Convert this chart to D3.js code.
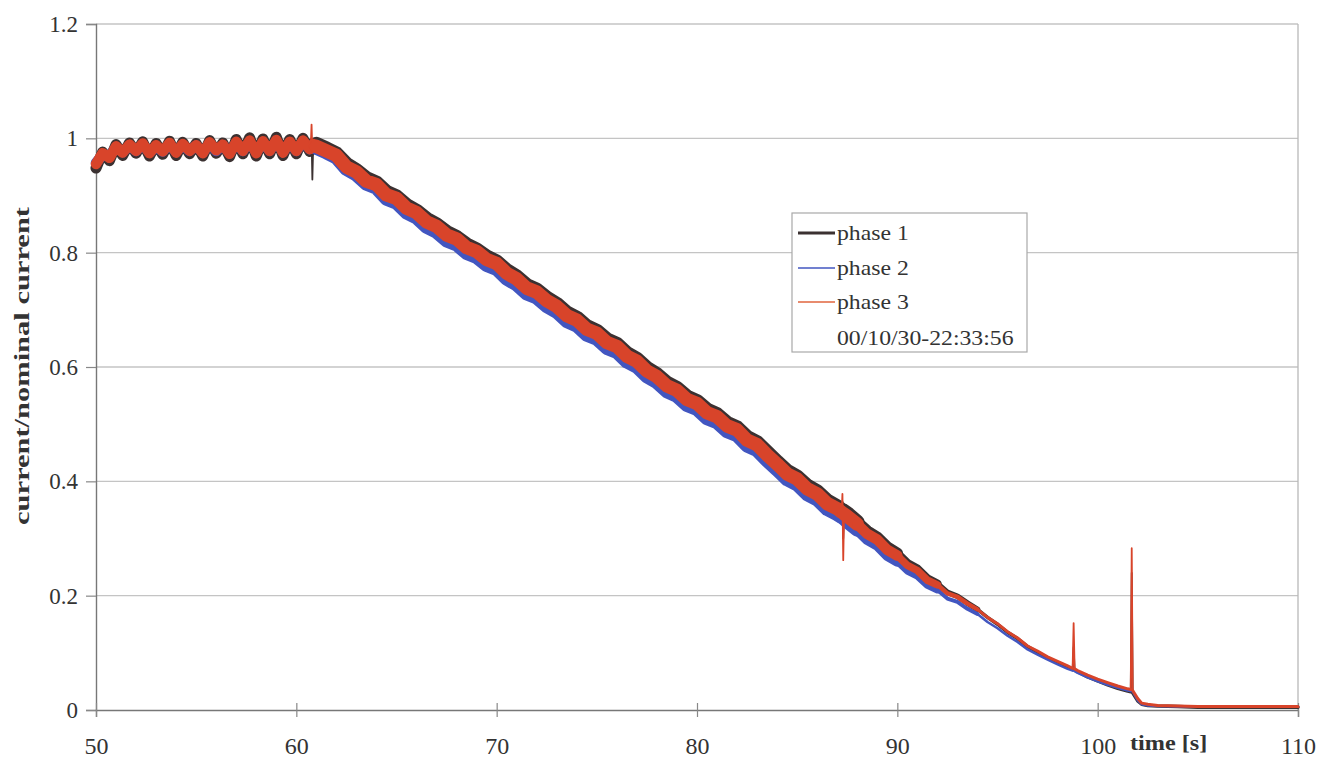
<!DOCTYPE html>
<html><head><meta charset="utf-8">
<script src="https://cdn.jsdelivr.net/npm/d3@7"></script>
<style>
body{margin:0;background:#fff;}
text{font-family:"Liberation Serif","Times New Roman",serif;fill:#333;}
</style>
</head><body>
<svg id="c" width="1323" height="767"></svg>
<script>
const time = [
 50,50.33,50.67,51,51.33,51.67,52,52.33,52.67,53,53.33,53.67,54,54.33,54.67,55,55.33,55.67,56,56.33,56.67,57,57.33,57.67,58,58.33,58.67,59,59.33,59.67,60,60.33,60.67,
 60.72,60.76,60.8,60.84,61,
 61.5,62,62.5,63,63.5,64,64.5,65,65.5,66,66.5,67,67.5,68,68.5,69,69.5,70,
 70.5,71,71.5,72,72.5,73,73.5,74,74.5,75,75.5,76,76.5,77,77.5,78,78.5,79,79.5,80,
 80.5,81,81.5,82,82.5,83,83.5,84,84.5,85,85.5,86,86.5,87,
 87.22,87.26,87.3,87.34,
 87.5,88,88.5,89,89.5,90,90.5,91,91.5,92,92.5,93,93.5,94,94.5,95,95.5,96,96.5,97,97.5,98,98.5,
 98.75,98.8,98.85,
 99,99.5,100,100.5,101,101.5,
 101.65,101.7,101.75,
 102,102.2,102.5,103,104,105,106,107,108,109,110
];
const phase1 = [
 0.948,0.976,0.961,0.989,0.970,0.992,0.974,0.994,0.969,0.991,0.972,0.995,0.970,0.993,0.973,0.991,0.969,0.996,0.974,0.992,0.968,0.998,0.973,1.001,0.969,0.999,0.973,1.002,0.970,0.998,0.973,1.000,0.977,
 0.990,1.000,0.928,0.985,0.990,
 0.982,0.973,0.955,0.944,0.930,0.922,0.906,0.898,0.883,0.873,0.859,0.849,0.836,0.827,0.814,0.805,0.793,0.784,
 0.769,0.758,0.743,0.735,0.721,0.710,0.695,0.686,0.671,0.663,0.648,0.640,0.624,0.614,0.598,0.587,0.572,0.563,0.548,0.540,
 0.525,0.517,0.502,0.494,0.477,0.468,0.451,0.434,0.418,0.408,0.392,0.382,0.366,0.356,
 0.350,0.365,0.300,0.348,
 0.344,0.329,0.313,0.302,0.285,0.274,0.257,0.247,0.230,0.221,0.206,0.199,0.187,0.176,0.162,0.150,0.136,0.125,0.111,0.101,0.091,0.083,0.075,
 0.071,0.110,0.070,
 0.067,0.058,0.051,0.044,0.038,0.033,
 0.032,0.240,0.030,
 0.016,0.010,0.008,0.007,0.006,0.005,0.005,0.005,0.005,0.005,0.005
];
const phase2 = [
 0.957,0.971,0.969,0.984,0.976,0.987,0.978,0.989,0.975,0.986,0.977,0.990,0.976,0.988,0.978,0.987,0.975,0.991,0.978,0.988,0.974,0.992,0.978,0.994,0.975,0.993,0.978,0.995,0.976,0.992,0.978,0.994,0.981,
 0.984,0.990,0.982,0.985,0.983,
 0.975,0.966,0.946,0.936,0.920,0.913,0.894,0.887,0.870,0.861,0.845,0.836,0.821,0.814,0.799,0.792,0.778,0.771,
 0.754,0.744,0.728,0.721,0.706,0.696,0.680,0.672,0.656,0.649,0.633,0.626,0.609,0.600,0.583,0.573,0.557,0.549,0.533,0.526,
 0.510,0.503,0.487,0.480,0.462,0.454,0.436,0.420,0.403,0.394,0.377,0.368,0.351,0.342,
 0.337,0.336,0.335,0.334,
 0.329,0.315,0.298,0.288,0.270,0.260,0.243,0.234,0.218,0.210,0.195,0.189,0.177,0.168,0.154,0.143,0.130,0.119,0.106,0.097,0.088,0.080,0.072,
 0.069,0.069,0.068,
 0.065,0.057,0.050,0.044,0.039,0.034,
 0.033,0.033,0.032,
 0.017,0.010,0.008,0.007,0.006,0.006,0.006,0.006,0.006,0.006,0.006
];
const phase3 = [
 0.955,0.974,0.966,0.986,0.975,0.989,0.978,0.991,0.974,0.988,0.977,0.992,0.975,0.990,0.978,0.988,0.974,0.993,0.979,0.989,0.973,0.994,0.978,0.996,0.974,0.995,0.978,0.997,0.975,0.994,0.978,0.996,0.981,
 0.985,1.024,0.975,0.990,0.986,
 0.978,0.970,0.950,0.941,0.925,0.919,0.901,0.895,0.878,0.870,0.854,0.846,0.831,0.824,0.809,0.802,0.788,0.781,
 0.764,0.754,0.738,0.731,0.716,0.706,0.690,0.682,0.666,0.659,0.643,0.636,0.619,0.610,0.593,0.583,0.567,0.559,0.543,0.536,
 0.520,0.513,0.497,0.490,0.472,0.464,0.446,0.430,0.413,0.404,0.387,0.378,0.361,0.352,
 0.346,0.378,0.262,0.343,
 0.339,0.325,0.308,0.298,0.280,0.270,0.253,0.244,0.227,0.219,0.204,0.198,0.186,0.176,0.162,0.151,0.137,0.126,0.112,0.103,0.093,0.085,0.077,
 0.073,0.152,0.072,
 0.069,0.061,0.054,0.048,0.042,0.037,
 0.036,0.283,0.034,
 0.020,0.012,0.010,0.008,0.007,0.006,0.006,0.006,0.006,0.006,0.006
];
const seriesNames = ["phase 1","phase 2","phase 3"];
const legendNote = "00/10/30-22:33:56";
const xTicks = [50,60,70,80,90,100,110];
const yTicks = [0,0.2,0.4,0.6,0.8,1,1.2];
const yTickLabels = ["0","0.2","0.4","0.6","0.8","1","1.2"];
const spikeTimes = [60.76,60.8,87.26,87.3,98.8,101.7];

// styling
const colors = ["#3b3131","#4256c0","#d8442a"];
const widthBreaks = [61,88,90,92,94];
const widths = [
  [11,14.5,11.5,8.5,5.5,3.5],
  [10.5,13.5,10.5,7,4,2.5],
  [10.5,13.5,10.5,7.5,4.5,3]
];

const svg = d3.select("#c");
const M = {l:96, r:1298, t:24, b:710};
const x = d3.scaleLinear().domain([50,110]).range([M.l,M.r]);
const y = d3.scaleLinear().domain([0,1.2]).range([M.b,M.t]);

// grid
svg.append("g").selectAll("line").data(yTicks.filter(v=>v>0)).join("line")
  .attr("x1",M.l).attr("x2",M.r).attr("y1",d=>y(d)).attr("y2",d=>y(d))
  .attr("stroke","#c4c4c4").attr("stroke-width",1.3);
svg.append("line").attr("x1",M.r).attr("x2",M.r).attr("y1",M.t).attr("y2",M.b)
  .attr("stroke","#b8b8b8").attr("stroke-width",1.3);

// axes
const yAxis = svg.append("g").attr("transform",`translate(${M.l},0)`)
  .call(d3.axisLeft(y).tickValues(yTicks).tickSize(10).tickPadding(8).tickFormat((d,i)=>yTickLabels[i]));
yAxis.select(".domain").attr("stroke","#777").attr("stroke-width",1.4);
yAxis.selectAll(".tick line").attr("stroke","#888").attr("stroke-width",1.2);
yAxis.selectAll("text").style("font-size","23px").attr("fill","#333");

const xAxis = svg.append("g").attr("transform",`translate(0,${M.b})`)
  .call(d3.axisBottom(x).tickValues(xTicks).tickSize(7).tickFormat(d3.format("d")));
xAxis.select(".domain").attr("stroke","#777").attr("stroke-width",1.4);
xAxis.selectAll(".tick line").attr("y1",-7).attr("stroke","#888").attr("stroke-width",1.2);
xAxis.selectAll("text").style("font-size","24px").attr("y",27).attr("fill","#333");

// series
const plot = svg.append("g");
[phase1,phase2,phase3].forEach((vals,si)=>{
  const ln = d3.line().x(i=>x(time[i])).y(i=>y(vals[i]));
  const chunks=[]; let cur=null;
  for(let i=0;i<time.length-1;i++){
    const spike = spikeTimes.includes(time[i])||spikeTimes.includes(time[i+1]);
    const mid=(time[i]+time[i+1])/2;
    const w = spike ? 1.8 : widths[si][d3.bisectRight(widthBreaks,mid)];
    if(!cur||cur.w!==w){cur={w,idx:[i]};chunks.push(cur);}
    cur.idx.push(i+1);
  }
  plot.append("g").selectAll("path").data(chunks).join("path")
    .attr("d",c=>ln(c.idx)).attr("fill","none").attr("stroke",colors[si])
    .attr("stroke-width",c=>c.w).attr("stroke-linejoin","round").attr("stroke-linecap","round");
});

// legend
const lg = svg.append("g");
lg.append("rect").attr("x",792).attr("y",213).attr("width",235).attr("height",139)
  .attr("fill","#fff").attr("stroke","#a8a8a8").attr("stroke-width",1.2);
const rowsY=[233,268,302,338];
const lw=[3.2,1.6,1.6];
seriesNames.forEach((n,i)=>{
  lg.append("line").attr("x1",798).attr("x2",835).attr("y1",rowsY[i]).attr("y2",rowsY[i])
    .attr("stroke",i===2?"#e0653e":colors[i]).attr("stroke-width",lw[i]);
});
[...seriesNames,legendNote].forEach((t,i)=>{
  lg.append("text").attr("transform",`translate(837,${rowsY[i]}) scale(1.13,1)`)
    .attr("dy","0.32em").style("font-size","21px").text(t);
});

// axis titles
svg.append("text").attr("transform","translate(22,366) rotate(-90)")
  .attr("text-anchor","middle").attr("dy","0.35em")
  .attr("textLength",318).attr("lengthAdjust","spacingAndGlyphs")
  .style("font-size","21px").style("font-weight","bold").text("current/nominal current");
svg.append("text").attr("transform","translate(1130,743) scale(1.1,1)").attr("dy","0.32em")
  .style("font-size","22px").style("font-weight","bold").text("time [s]");
</script>
</body></html>
